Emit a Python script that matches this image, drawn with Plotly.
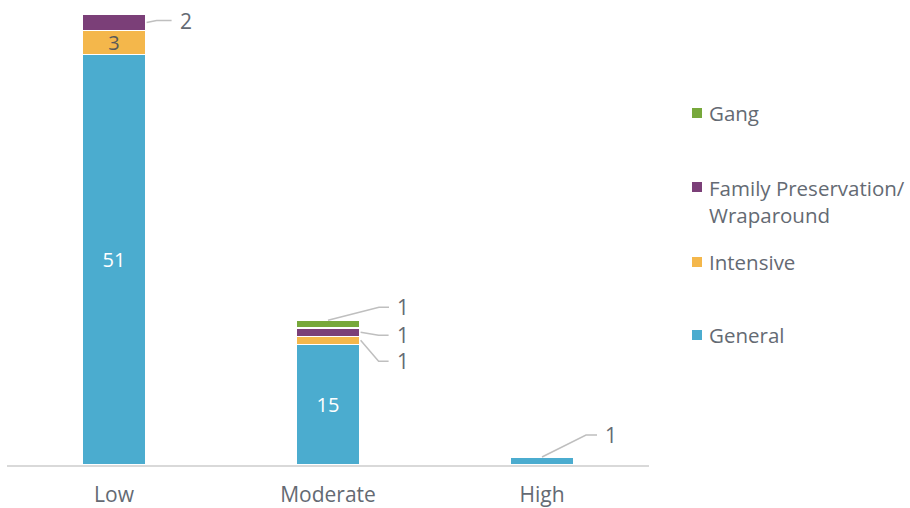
import plotly.graph_objects as go

# Risk levels and program counts per level
categories = ["Low", "Moderate", "High"]
general = [51, 15, 1]
intensive = [3, 1, 0]
family_preservation = [2, 1, 0]
gang = [0, 1, 0]

series_names = ["General", "Intensive", "Family Preservation/<br>Wraparound", "Gang"]
series_values = [general, intensive, family_preservation, gang]
series_colors = ["#4BACCF", "#F4B74B", "#7B3F78", "#77A83B"]

# Layout geometry (pixels)
W, H = 910, 508
M_L, M_R, M_T, M_B = 7, 261, 0, 43
PLOT_W = W - M_L - M_R
PLOT_H = H - M_T - M_B
Y_MAX = 57.8
BAR_W = 0.3
PX_PER_CAT = PLOT_W / len(categories)
PX_PER_UNIT = PLOT_H / Y_MAX

TEXT_GRAY = "#646a73"
FONT = "Open Sans"
FS = 21

x_pos = list(range(len(categories)))

fig = go.Figure()
for name, vals, col in zip(series_names, series_values, series_colors):
    labels = []
    for v in vals:
        labels.append(str(v) if v >= 3 else "")
    fig.add_trace(go.Bar(
        x=x_pos, y=vals, name=name, width=BAR_W,
        marker=dict(color=col, line=dict(color="white", width=1.5)),
        text=labels, textposition="inside", insidetextanchor="middle",
        textangle=0, constraintext="none",
        textfont=dict(family=FONT, size=FS - 1,
                      color="white" if name == "General" else "#595959"),
        showlegend=False, hoverinfo="skip",
    ))


def seg_bounds(series_idx, cat_idx):
    lo = sum(series_values[k][cat_idx] for k in range(series_idx))
    return lo, lo + series_values[series_idx][cat_idx]


# Callouts for the small segments: (series, category, anchor, elbow dx, elbow dy, run)
callouts = [
    (2, 0, "right", 10, -2, 15),
    (3, 1, "top", 51, -13, 10),
    (2, 1, "right", 18, 3, 10),
    (1, 1, "right", 18, 21, 10),
    (0, 2, "top", 44, -22, 11),
]

for s, c, anchor, edx, edy, run in callouts:
    lo, hi = seg_bounds(s, c)
    if anchor == "top":
        x0, y0 = c, hi
    else:
        x0, y0 = c + BAR_W / 2 + 0.5 / PX_PER_CAT, (lo + hi) / 2
    x1 = x0 + edx / PX_PER_CAT
    y1 = y0 - edy / PX_PER_UNIT
    x2 = x1 + run / PX_PER_CAT
    fig.add_trace(go.Scatter(
        x=[x0, x1, x2], y=[y0, y1, y1], mode="lines",
        line=dict(color="#bfbfbf", width=1.5),
        showlegend=False, hoverinfo="skip",
    ))
    fig.add_annotation(
        x=x2, y=y1, text=str(series_values[s][c]), showarrow=False,
        xanchor="left", yanchor="middle", xshift=6,
        font=dict(family=FONT, size=FS, color=TEXT_GRAY),
    )


def paper_x(px):
    return (px - M_L) / PLOT_W


def paper_y(py):
    return (H - M_B - py) / PLOT_H


# Legend, drawn top to bottom: Gang, Family Preservation, Intensive, General
legend_rows = [(3, 113, 113), (2, 187, 201), (1, 262, 262), (0, 335, 335)]
for s, sq_y, text_y in legend_rows:
    fig.add_shape(
        type="rect", xref="paper", yref="paper",
        x0=paper_x(692), x1=paper_x(702),
        y0=paper_y(sq_y + 5), y1=paper_y(sq_y - 5),
        fillcolor=series_colors[s], line=dict(width=0),
    )
    fig.add_annotation(
        xref="paper", yref="paper", x=paper_x(707), y=paper_y(text_y),
        text=series_names[s], showarrow=False, xanchor="left", yanchor="middle",
        align="left", font=dict(family=FONT, size=FS - 0.5, color=TEXT_GRAY),
    )

fig.update_layout(
    barmode="stack",
    width=W, height=H,
    margin=dict(l=M_L, r=M_R, t=M_T, b=M_B, autoexpand=False),
    paper_bgcolor="white", plot_bgcolor="white",
    showlegend=False,
    font=dict(family=FONT, color=TEXT_GRAY),
    xaxis=dict(
        range=[-0.5, len(categories) - 0.5],
        tickvals=x_pos, ticktext=categories,
        tickfont=dict(family=FONT, size=FS, color=TEXT_GRAY),
        showgrid=False, zeroline=False, automargin=False,
        showline=True, linecolor="#d9d9d9", linewidth=1.5,
        ticks="outside", ticklen=10, tickcolor="rgba(0,0,0,0)",
        fixedrange=True,
    ),
    yaxis=dict(
        range=[0, Y_MAX], visible=False, fixedrange=True,
    ),
)

fig.write_html("out.html")
